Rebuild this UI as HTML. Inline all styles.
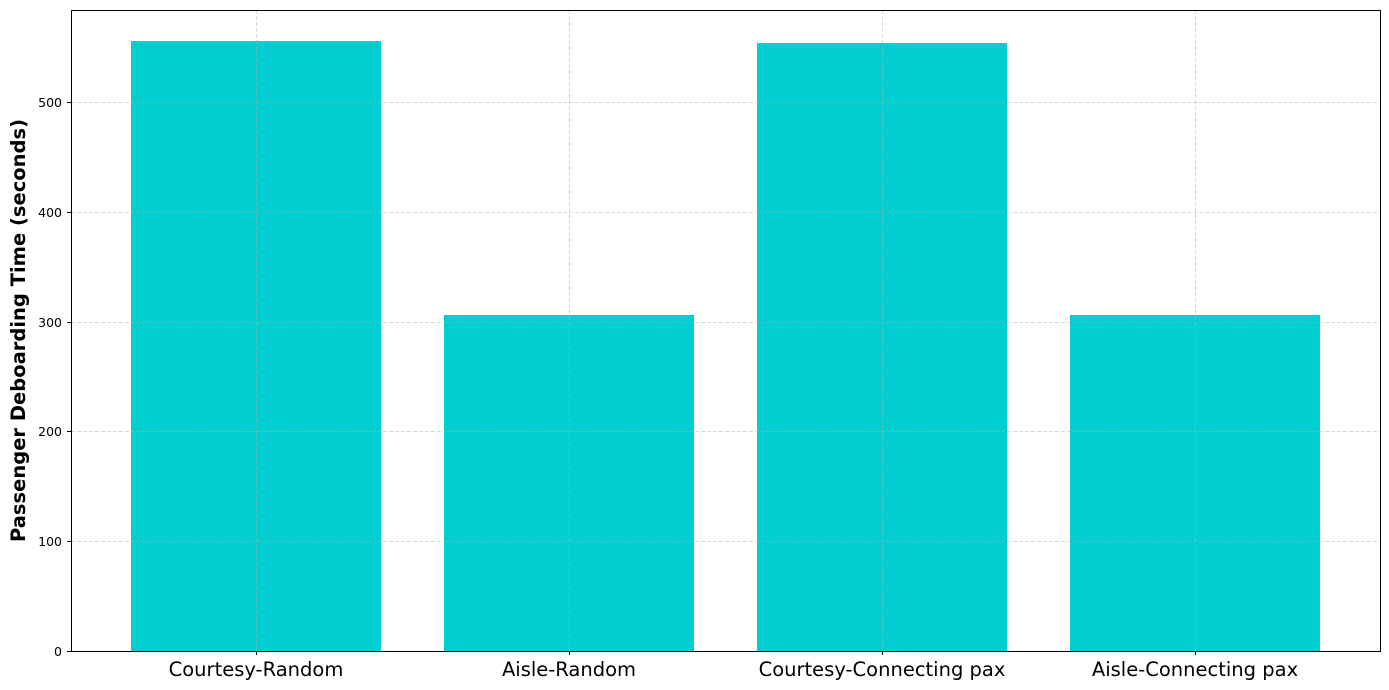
<!DOCTYPE html>
<html><head><meta charset="utf-8"><style>
html,body{margin:0;padding:0;background:#fff;width:1389px;height:690px;overflow:hidden}
svg text{font-family:"DejaVu Sans","Liberation Sans",sans-serif}
</style></head><body>
<svg id="chart" width="1389" height="690" xmlns="http://www.w3.org/2000/svg"></svg>
<script>
const categories = ["Courtesy-Random","Aisle-Random","Courtesy-Connecting pax","Aisle-Connecting pax"];
const values = [555.5, 306, 553.7, 306];
const yTicks = [0,100,200,300,400,500];
const yMax = 583.8;
const L=71,R=1380,T=10,B=651;
const svg=document.getElementById('chart');
const NS='http://www.w3.org/2000/svg';
const xs=i=>256+i*313;
const ys=v=>B-(v/yMax)*(B-T);
function mk(tag,attrs){const e=document.createElementNS(NS,tag);for(const k in attrs)e.setAttribute(k,attrs[k]);svg.appendChild(e);return e;}
categories.forEach((c,i)=>{
  const r=mk('rect',{x:xs(i)-125,y:ys(values[i]),width:250,height:B-ys(values[i]),fill:'#00ced1'});
  
  
});
yTicks.forEach(t=>{
  const y=Math.round(ys(t))+0.5;
  const g=mk('line',{x1:L,x2:R,y1:y,y2:y,stroke:'#b0b0b0','stroke-opacity':0.6,'stroke-dasharray':'4,2','stroke-width':0.8});
  
  
  mk('line',{x1:L-4,x2:L,y1:y,y2:y,stroke:'#000','stroke-width':1});
  const tx=mk('text',{x:L-9,y:y+4.5,'text-anchor':'end','font-size':12.5,fill:'#000'});
  tx.textContent=t;
  
  
});
categories.forEach((c,i)=>{
  const x=xs(i)+0.5;
  const g=mk('line',{x1:x,x2:x,y1:T,y2:B,stroke:'#b0b0b0','stroke-opacity':0.6,'stroke-dasharray':'4,2','stroke-width':0.8});
  
  
  mk('line',{x1:x,x2:x,y1:B,y2:B+4,stroke:'#000','stroke-width':1});
  const tx=mk('text',{x:xs(i),y:B+25,'text-anchor':'middle','font-size':19.5,fill:'#000'});
  tx.textContent=c;
  
  
});
const fr=mk('rect',{x:L+0.5,y:T+0.5,width:R-L,height:B-T,fill:'none',stroke:'#000','stroke-width':1});


const cy=(T+B)/2;
const yt=mk('text',{x:25,y:cy,'text-anchor':'middle','font-size':19.5,'font-weight':'bold',fill:'#000',transform:'rotate(-90 25 '+cy+')'});
yt.textContent='Passenger Deboarding Time (seconds)';


</script>
</body></html>
